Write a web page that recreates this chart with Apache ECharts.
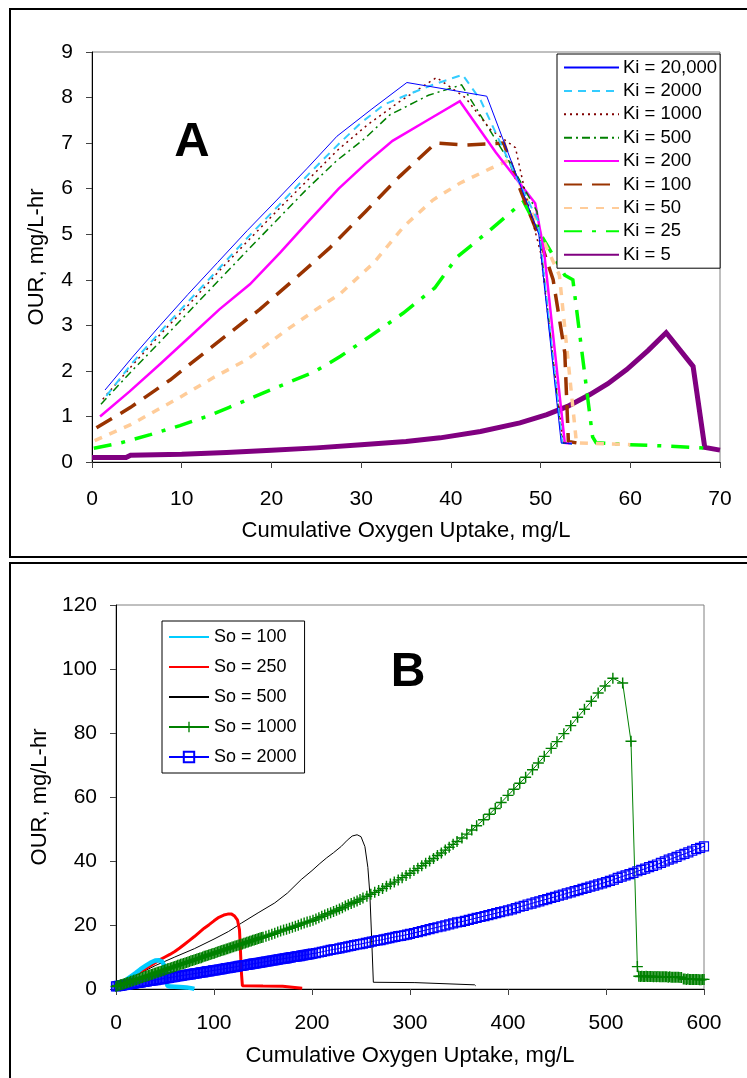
<!DOCTYPE html>
<html><head><meta charset="utf-8">
<script src="https://cdn.jsdelivr.net/npm/echarts@6/dist/echarts.min.js"></script>
<style>html,body{margin:0;padding:0;background:#fff}#c{width:747px;height:1078px}</style>
</head><body><div id="c"></div>
<script>
const FONT = 'Liberation Sans, Arial, Helvetica, sans-serif';

// ---------- Panel A : OUR vs cumulative O2 uptake for different Ki ----------
const kiNames = ['Ki = 20,000','Ki = 2000','Ki = 1000','Ki = 500','Ki = 200','Ki = 100','Ki = 50','Ki = 25','Ki = 5'];
const ki20000 = [[1.45,1.58],[4.5,2.3],[7.6,3.0],[10.7,3.68],[14,4.38],[17.3,5.08],[20.6,5.75],[24,6.45],[27.3,7.15],[31.2,7.75],[35.1,8.33],[44,8.03],[49.8,5.0],[52.3,0.42],[53.5,0.4]];
const ki2000 = [[1.6,1.45],[4.6,2.2],[7.8,2.9],[11,3.58],[14.3,4.28],[17.6,4.98],[20.9,5.65],[24.2,6.33],[27.5,6.98],[30,7.45],[32.6,7.85],[35,8.05],[38,8.28],[41.3,8.5],[43.3,7.95],[46.9,6.42],[49.7,5.3],[52.4,0.42],[53.5,0.4]];
const ki1000 = [[1.2,1.38],[4.4,2.1],[7.7,2.82],[11,3.5],[14.2,4.2],[17.5,4.88],[20.8,5.55],[24.1,6.2],[27.4,6.85],[30.7,7.4],[34.2,7.9],[38.4,8.44],[41.6,8.0],[44.4,7.3],[47.2,6.9],[48.3,5.9],[50,4.6],[52.5,0.42],[53.5,0.4]];
const ki500 = [[1.0,1.27],[4.2,1.95],[7.5,2.62],[10.8,3.3],[14.1,3.98],[17.4,4.66],[20.7,5.33],[24,6.0],[27.3,6.62],[30.4,7.1],[33.2,7.62],[37.5,8.05],[41.2,8.28],[43.5,7.55],[46.5,6.6],[49.6,5.5],[52.4,0.42],[53.5,0.4]];
const ki200 = [[0.9,1.0],[4.2,1.55],[7.6,2.15],[10.9,2.75],[14.2,3.35],[17.6,3.9],[21,4.6],[24.2,5.3],[27.5,6.0],[30.5,6.55],[33.5,7.05],[37.2,7.48],[41.0,7.92],[45,6.8],[49.4,5.68],[50.4,4.6],[52.7,0.42],[53.5,0.4]];
const ki100 = [[0.5,0.75],[4.3,1.2],[8.7,1.8],[13.5,2.55],[18.7,3.35],[22.5,4.0],[26.5,4.7],[30.5,5.5],[34.3,6.27],[38.3,7.0],[41.8,6.96],[45.9,7.0],[47.5,6.1],[49.9,4.9],[51.4,4.0],[52.7,2.4],[53.1,0.45],[54,0.42]];
const ki50 = [[0.3,0.47],[4.3,0.82],[9.8,1.42],[13.5,1.85],[17.3,2.25],[21.7,2.9],[25,3.35],[27.7,3.7],[31.4,4.37],[34.8,5.18],[38,5.75],[41,6.12],[44.5,6.45],[46.2,6.6],[48,6.0],[50,5.0],[52.1,4.1],[54,0.42],[60,0.38]];
const ki25 = [[0.2,0.3],[3.2,0.42],[6.5,0.6],[9.8,0.8],[12.8,1.0],[15.3,1.2],[17.7,1.4],[21.7,1.73],[24.7,1.97],[27.7,2.32],[31,2.76],[34.7,3.27],[38.2,3.82],[40.7,4.5],[44,5.03],[48.1,5.72],[50,5.0],[52.7,4.1],[53.6,4.0],[55.8,0.55],[56.2,0.42],[60,0.38],[64,0.35],[69,0.3]];
const ki5 = [[0,0.1],[3.8,0.1],[4.3,0.15],[10,0.17],[15,0.21],[20,0.26],[25,0.31],[30,0.38],[35,0.45],[38.8,0.53],[43.3,0.67],[47.7,0.86],[50.7,1.04],[53,1.22],[55.5,1.48],[57.5,1.72],[59.6,2.03],[62,2.45],[64,2.84],[67,2.1],[68.3,0.32],[70,0.26]];
const xTicksA = {min:0, max:70, interval:10};
const yTicksA = {min:0, max:9, interval:1};

// ---------- Panel B : OUR vs cumulative O2 uptake for different So ----------
const soNames = ['So = 100','So = 250','So = 500','So = 1000','So = 2000'];
const so100 = [[0,0.6],[5,1.7],[10,2.8],[15,3.9],[20,5.0],[25,6.2],[30,7.2],[35,8.2],[40,8.9],[44,9.0],[47,8.6],[49,7.5],[50.5,5],[51.5,2.5],[52.5,1.0],[55,0.75],[65,0.65],[72,0.5],[78,0.2],[80,0.05]];
const so250 = [[0,0.6],[5,1.8],[10,2.8],[15,3.7],[20,4.6],[25,5.4],[30,6.3],[35,7.3],[40,8.2],[45,9.2],[50,10.0],[55,10.8],[60,11.7],[65,12.8],[70,14.0],[75,15.2],[80,16.4],[85,17.7],[90,19.0],[95,20.1],[100,21.3],[105,22.4],[110,23.1],[114,23.4],[118,23.4],[121,22.8],[124,21.5],[126,18.5],[127,12],[128,5],[129,1.0],[150,0.9],[170,0.85],[171,0.3],[190,0.25]];
const so500 = [[0,0.5],[6,1.7],[12,2.8],[25,5.0],[40,7.3],[60,10.0],[80,12.6],[100,15.6],[115,18.0],[128,20.6],[145,23.8],[162,26.9],[175,30.0],[189,34.2],[200,37.0],[208,39.2],[215,41.0],[222,42.6],[230,44.6],[236,46.5],[241,47.8],[246,48.2],[250,47.6],[254,44.5],[257,38],[259,29.9],[261,15],[262.6,2.1],[305,2.0],[305.5,1.4],[366,1.3],[367,1.0]];
const so1000 = [[0,0.8],[1.5,1.0],[3,1.1],[4.5,1.3],[6,1.4],[7.5,1.6],[9,1.7],[10.5,1.9],[12,2.0],[13.5,2.2],[15,2.4],[16.5,2.5],[18,2.7],[19.5,2.8],[21,3.0],[22.5,3.1],[24,3.3],[25.5,3.5],[27,3.6],[28.5,3.8],[30,3.9],[31.5,4.1],[33,4.2],[34.5,4.4],[36,4.5],[37.5,4.7],[39,4.9],[40.5,5.0],[42,5.2],[43.5,5.3],[45,5.5],[46.5,5.6],[48,5.8],[49.5,5.9],[51,6.1],[52.5,6.3],[54,6.4],[55.5,6.6],[57,6.7],[58.5,6.9],[60,7.0],[61.5,7.2],[63,7.4],[64.5,7.5],[66,7.7],[67.5,7.8],[69,8.0],[70.5,8.1],[72,8.3],[73.5,8.4],[75,8.6],[76.5,8.8],[78,8.9],[79.5,9.1],[81,9.2],[82.5,9.4],[84,9.5],[85.5,9.7],[87,9.8],[88.5,10.0],[90,10.2],[91.5,10.3],[93,10.5],[94.5,10.6],[96,10.8],[97.5,10.9],[99,11.1],[100.5,11.2],[102,11.4],[103.5,11.6],[105,11.7],[106.5,11.9],[108,12.0],[109.5,12.2],[111,12.3],[112.5,12.5],[114,12.6],[115.5,12.8],[117,12.9],[118.5,13.1],[120,13.2],[121.5,13.4],[123,13.5],[124.5,13.7],[126,13.8],[127.5,14.0],[129,14.1],[130.5,14.3],[132,14.4],[133.5,14.6],[135,14.7],[136.5,14.9],[138,15.0],[139.5,15.2],[141,15.3],[142.5,15.5],[144,15.6],[145.5,15.8],[147,15.9],[148.5,16.1],[150,16.2],[153,16.5],[156,16.8],[159,17.1],[162,17.4],[165,17.8],[168,18.1],[171,18.4],[174,18.7],[177,19.0],[180,19.3],[183,19.6],[186,19.9],[189,20.3],[192,20.6],[195,20.9],[198,21.2],[201,21.5],[204,21.9],[207,22.3],[210,22.7],[213,23.1],[216,23.5],[219,23.8],[222,24.2],[225,24.6],[228,25.0],[231,25.4],[234,25.9],[237,26.3],[240,26.7],[243,27.1],[246,27.5],[249,28.0],[252,28.4],[256,29.0],[260,29.6],[264,30.2],[268,30.8],[272,31.4],[276,32.1],[280,32.8],[284,33.4],[288,34.1],[292,34.8],[296,35.5],[300,36.2],[304,37.0],[308,37.7],[312,38.5],[316,39.3],[320,40.0],[324,40.8],[328,41.7],[332,42.5],[336,43.4],[340,44.3],[344,45.2],[348,46.1],[353,47.2],[358,48.4],[363,49.7],[368,51.0],[375,52.9],[381,54.6],[387,56.4],[393,58.3],[400,60.5],[406,62.4],[412,64.3],[418,66.2],[425,68.5],[431,70.6],[437,72.7],[444,75.2],[450,77.3],[457,79.8],[464,82.3],[471,84.9],[478,87.4],[485,89.9],[492,92.5],[499,94.7],[507,97.1],[517,95.6],[525.5,77.4],[532,7.0],[533.5,4.0],[535,3.9],[536.5,4.0],[538,3.9],[539.5,3.9],[541,4.0],[542.5,3.9],[544,3.9],[545.5,3.9],[547,3.9],[548.5,3.8],[550,3.9],[551.5,3.8],[553,3.9],[554.5,3.8],[556,3.8],[557.5,3.8],[559,3.8],[560.5,3.8],[562,3.8],[563.5,3.7],[565,3.8],[566.5,3.7],[568,3.7],[569.5,3.7],[571,3.7],[572.5,3.7],[574,3.7],[575.5,3.6],[577,3.6],[579,3.1],[580.5,3.1],[582,3.0],[583.5,3.1],[585,3.0],[586.5,3.0],[588,3.0],[589.5,3.0],[591,3.0],[592.5,3.0],[594,3.0],[595.5,2.9],[597,2.9],[598.5,3.0],[600,3.0],[606,3.1]];
const so2000 = [[0,0.8],[1.5,0.9],[3,1.0],[4.5,1.0],[6,1.1],[7.5,1.2],[9,1.3],[10.5,1.3],[12,1.4],[13.5,1.5],[15,1.6],[16.5,1.6],[18,1.7],[19.5,1.8],[21,1.9],[22.5,1.9],[24,2.0],[25.5,2.1],[27,2.2],[28.5,2.2],[30,2.3],[31.5,2.4],[33,2.5],[34.5,2.5],[36,2.6],[37.5,2.7],[39,2.8],[40.5,2.8],[42,2.9],[43.5,3.0],[45,3.1],[46.5,3.1],[48,3.2],[49.5,3.3],[51,3.4],[52.5,3.4],[54,3.5],[55.5,3.6],[57,3.7],[58.5,3.7],[60,3.8],[61.5,3.9],[63,4.0],[64.5,4.0],[66,4.1],[67.5,4.2],[69,4.3],[70.5,4.3],[72,4.4],[73.5,4.5],[75,4.6],[76.5,4.6],[78,4.7],[79.5,4.8],[81,4.9],[82.5,4.9],[84,5.0],[85.5,5.1],[87,5.2],[88.5,5.2],[90,5.3],[91.5,5.4],[93,5.5],[94.5,5.5],[96,5.6],[97.5,5.7],[99,5.8],[100.5,5.8],[102,5.9],[103.5,6.0],[105,6.1],[106.5,6.1],[108,6.2],[109.5,6.3],[111,6.4],[112.5,6.5],[114,6.5],[115.5,6.6],[117,6.7],[118.5,6.8],[120,6.8],[121.5,6.9],[123,7.0],[124.5,7.1],[126,7.2],[127.5,7.2],[129,7.3],[130.5,7.4],[132,7.5],[133.5,7.5],[135,7.6],[136.5,7.7],[138,7.8],[139.5,7.9],[141,7.9],[142.5,8.0],[144,8.1],[145.5,8.2],[147,8.2],[148.5,8.3],[150,8.4],[151.5,8.5],[153,8.6],[154.5,8.6],[156,8.7],[157.5,8.8],[159,8.9],[160.5,8.9],[162,9.0],[163.5,9.1],[165,9.2],[166.5,9.3],[168,9.3],[169.5,9.4],[171,9.5],[172.5,9.6],[174,9.6],[175.5,9.7],[177,9.8],[178.5,9.9],[180,10.0],[181.5,10.0],[183,10.1],[184.5,10.2],[186,10.3],[187.5,10.3],[189,10.4],[190.5,10.5],[192,10.6],[193.5,10.7],[195,10.7],[196.5,10.8],[198,10.9],[199.5,11.0],[201,11.1],[204,11.2],[207,11.4],[210,11.6],[213,11.8],[216,12.0],[219,12.2],[222,12.4],[225,12.5],[228,12.7],[231,12.9],[234,13.1],[237,13.3],[240,13.5],[243,13.7],[246,13.9],[249,14.0],[252,14.2],[255,14.4],[258,14.6],[261,14.8],[264,15.0],[267,15.2],[270,15.3],[273,15.5],[276,15.7],[279,15.9],[282,16.1],[285,16.3],[288,16.5],[291,16.6],[294,16.8],[297,17.0],[300,17.2],[304,17.5],[308,17.8],[312,18.1],[316,18.4],[320,18.7],[324,19.0],[328,19.3],[332,19.6],[336,19.9],[340,20.2],[344,20.5],[348,20.8],[352,21.0],[356,21.3],[360,21.6],[364,21.9],[368,22.2],[372,22.5],[376,22.8],[380,23.1],[384,23.4],[388,23.7],[392,24.0],[396,24.3],[400,24.6],[404,24.9],[408,25.3],[412,25.7],[416,26.0],[420,26.4],[424,26.7],[428,27.1],[432,27.4],[436,27.8],[440,28.1],[444,28.5],[448,28.8],[452,29.2],[456,29.5],[460,29.9],[464,30.2],[468,30.6],[472,30.9],[476,31.3],[480,31.6],[484,32.0],[488,32.3],[492,32.7],[496,33.0],[500,33.4],[504,33.8],[508,34.2],[512,34.7],[516,35.1],[520,35.5],[524,35.9],[528,36.3],[532,36.8],[536,37.2],[540,37.6],[544,38.1],[548,38.5],[552,38.9],[556,39.4],[560,39.9],[564,40.4],[568,40.8],[572,41.3],[576,41.8],[580,42.2],[584,42.7],[588,43.2],[592,43.7],[596,44.1],[600,44.6]];
const xTicksB = {min:0, max:600, interval:100};
const yTicksB = {min:0, max:120, interval:20};

const xTitle = 'Cumulative Oxygen Uptake, mg/L';
const yTitle = 'OUR, mg/L-hr';

const PLUS = 'path://M4.35,0h1.3v4.35h4.35v1.3h-4.35v4.35h-1.3v-4.35h-4.35v-1.3h4.35z';

function lineA(name, data, color, width, type, z) {
  return {name, type:'line', xAxisIndex:0, yAxisIndex:0, data, symbol:'none', showSymbol:false,
    lineStyle:{color, width, type, cap:'butt', join:'miter'}, itemStyle:{color}, z: z || 2, animation:false};
}
function lineB(name, data, color, width, extra) {
  return Object.assign({name, type:'line', xAxisIndex:1, yAxisIndex:1, data, symbol:'none', showSymbol:false,
    lineStyle:{color, width}, itemStyle:{color}, animation:false}, extra || {});
}

function xAxisCfg(grid, t, margin, gap) {
  return {type:'value', gridIndex:grid, min:t.min, max:t.max, interval:t.interval,
    name:xTitle, nameLocation:'middle', nameGap:gap,
    nameTextStyle:{fontFamily:FONT, fontSize:22, color:'#000'},
    axisLine:{show:true, lineStyle:{color:'#000', width:1}},
    axisTick:{show:true, length:6, lineStyle:{color:'#444'}},
    axisLabel:{fontFamily:FONT, fontSize:21, color:'#000', margin:margin},
    splitLine:{show:false}};
}
function yAxisCfg(grid, t, gap) {
  return {type:'value', gridIndex:grid, min:t.min, max:t.max, interval:t.interval,
    name:yTitle, nameLocation:'middle', nameGap:gap, nameRotate:90,
    nameTextStyle:{fontFamily:FONT, fontSize:22, color:'#000'},
    axisLine:{show:true, lineStyle:{color:'#000', width:1}},
    axisTick:{show:true, length:6, lineStyle:{color:'#444'}},
    axisLabel:{fontFamily:FONT, fontSize:21, color:'#000', margin:19},
    splitLine:{show:false}};
}

const chart = echarts.init(document.getElementById('c'), null, {renderer:'canvas'});
chart.setOption({
  animation:false,
  backgroundColor:'#fff',
  grid:[
    {left:92, top:52, width:628, height:410, show:true, borderColor:'#808080', borderWidth:1, containLabel:false},
    {left:116, top:605, width:588, height:384, show:true, borderColor:'#808080', borderWidth:1, containLabel:false}
  ],
  xAxis:[xAxisCfg(0, xTicksA, 27, 58), xAxisCfg(1, xTicksB, 24, 56)],
  yAxis:[yAxisCfg(0, yTicksA, 44), yAxisCfg(1, yTicksB, 56)],
  legend:[
    {data:kiNames, orient:'vertical', left:557, top:54, selectedMode:false,
     itemWidth:55, itemHeight:14, itemGap:4.4, padding:[4,3,4,6],
     backgroundColor:'#fff', borderColor:'#000', borderWidth:1,
     itemStyle:{opacity:0},
     textStyle:{fontFamily:FONT, fontSize:18.5, color:'#000', padding:[0,0,0,-1]}},
    {data:[
       {name:'So = 100', itemStyle:{opacity:0}},
       {name:'So = 250', itemStyle:{opacity:0}},
       {name:'So = 500', itemStyle:{opacity:0}},
       {name:'So = 1000'},
       {name:'So = 2000'}],
     orient:'vertical', left:162, top:621, selectedMode:false,
     itemWidth:40, itemHeight:13, itemGap:12, padding:[7,8,7,6],
     backgroundColor:'#fff', borderColor:'#000', borderWidth:1,
     textStyle:{fontFamily:FONT, fontSize:18, color:'#000'}}
  ],
  series:[
    lineA(kiNames[8], ki5, '#800080', 5, 'solid', 1),
    lineA(kiNames[7], ki25, '#00FF00', 3.5, [18,10,4,10]),
    lineA(kiNames[6], ki50, '#FFCC99', 3.5, [8,8]),
    lineA(kiNames[5], ki100, '#993300', 3.5, [18,10]),
    lineA(kiNames[4], ki200, '#FF00FF', 2.5, 'solid'),
    lineA(kiNames[3], ki500, '#008000', 1.5, [8,4,2,4]),
    lineA(kiNames[2], ki1000, '#800000', 1.5, [2,4]),
    lineA(kiNames[1], ki2000, '#33CCFF', 2, [8,6]),
    lineA(kiNames[0], ki20000, '#0000FF', 1, 'solid', 3),
    lineB(soNames[4], so2000, '#0000FF', 1, {symbol:'rect', showSymbol:true, symbolSize:9,
       itemStyle:{color:'rgba(0,0,0,0)', borderColor:'#0000FF', borderWidth:1.2}}),
    lineB(soNames[3], so1000, '#008000', 1, {symbol:PLUS, showSymbol:true, symbolSize:11,
       itemStyle:{color:'#008000'}}),
    lineB(soNames[2], so500, '#000000', 1),
    lineB(soNames[1], so250, '#FF0000', 3),
    lineB(soNames[0], so100, '#00CCFF', 4.5)
  ],
  graphic:[
    {type:'rect', shape:{x:10, y:9, width:760, height:548}, style:{fill:'none', stroke:'#000', lineWidth:2}, silent:true, z:-1},
    {type:'rect', shape:{x:10, y:563, width:760, height:560}, style:{fill:'none', stroke:'#000', lineWidth:2}, silent:true, z:-1},
    {type:'text', x:192, y:142, style:{text:'A', font:'bold 49px ' + FONT, fill:'#000', align:'center', verticalAlign:'middle'}, z:10},
    {type:'text', x:408, y:673, style:{text:'B', font:'bold 48px ' + FONT, fill:'#000', align:'center', verticalAlign:'middle'}, z:10}
  ]
});
</script>
</body></html>
